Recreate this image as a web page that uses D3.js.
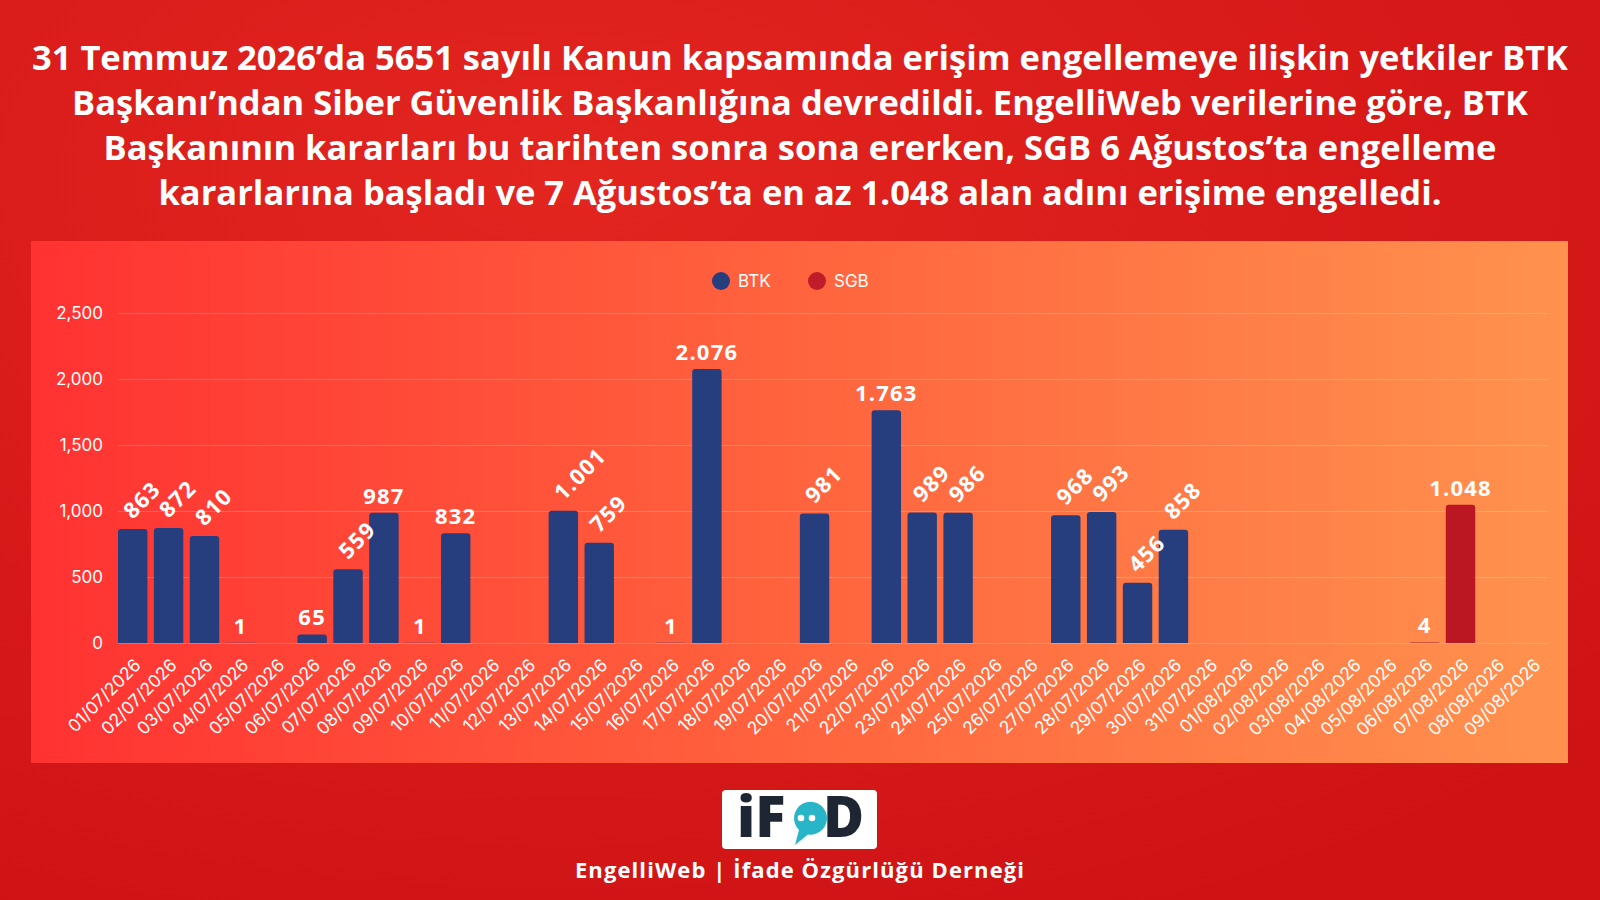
<!DOCTYPE html>
<html>
<head>
<meta charset="utf-8">
<script src="https://cdn.jsdelivr.net/npm/d3@7"></script>
<style>
  body { margin: 0; background: #d6181b; overflow: hidden; }
  svg { display: block; }
</style>
</head>
<body>
<svg id="chart"></svg>
<script>
const dates = [
  '01/07/2026', '02/07/2026', '03/07/2026', '04/07/2026', '05/07/2026', '06/07/2026', '07/07/2026',
  '08/07/2026', '09/07/2026', '10/07/2026', '11/07/2026', '12/07/2026', '13/07/2026', '14/07/2026',
  '15/07/2026', '16/07/2026', '17/07/2026', '18/07/2026', '19/07/2026', '20/07/2026', '21/07/2026',
  '22/07/2026', '23/07/2026', '24/07/2026', '25/07/2026', '26/07/2026', '27/07/2026', '28/07/2026',
  '29/07/2026', '30/07/2026', '31/07/2026', '01/08/2026', '02/08/2026', '03/08/2026', '04/08/2026',
  '05/08/2026', '06/08/2026', '07/08/2026', '08/08/2026', '09/08/2026'
]
const btkValues = [
  863, 872, 810, 1, null, 65, 559, 987, 1, 832, null, null, 1001, 759, null, 1, 2076, null, null, 981,
  null, 1763, 989, 986, null, null, 968, 993, 456, 858, null, null, null, null, null, null, null, null, null, null
]
const sgbValues = [
  null, null, null, null, null, null, null, null, null, null, null, null, null, null, null, null, null, null, null, null,
  null, null, null, null, null, null, null, null, null, null, null, null, null, null, null, null, 4, 1048, null, null
]
const yTicks = [0, 500, 1000, 1500, 2000, 2500]
const seriesNames = ['BTK', 'SGB']
// labels the original tool turned on their side
const rotatedLabels = [
  '01/07/2026', '02/07/2026', '03/07/2026', '07/07/2026', '13/07/2026', '14/07/2026', '20/07/2026',
  '23/07/2026', '24/07/2026', '27/07/2026', '28/07/2026', '29/07/2026', '30/07/2026'
]
const titleLines = [
  '31 Temmuz 2026’da 5651 sayılı Kanun kapsamında erişim engellemeye ilişkin yetkiler BTK',
  'Başkanı’ndan Siber Güvenlik Başkanlığına devredildi. EngelliWeb verilerine göre, BTK',
  'Başkanının kararları bu tarihten sonra sona ererken, SGB 6 Ağustos’ta engelleme',
  'kararlarına başladı ve 7 Ağustos’ta en az 1.048 alan adını erişime engelledi.'
]
const footerText = 'EngelliWeb | İfade Özgürlüğü Derneği'

const width = 1600, height = 900
const plot = { left: 118, right: 1547, top: 313, bottom: 643 }
const colors = { BTK: '#263e7e', SGB: '#bb1723' }

const trFormat = d3.formatLocale({ decimal: ',', thousands: '.', grouping: [3], currency: ['', ''] }).format(',')

const svg = d3.select('#chart').attr('width', width).attr('height', height)
const defs = svg.append('defs')

const bgGrad = defs.append('radialGradient').attr('id', 'bg').attr('cx', '35%').attr('cy', '20%').attr('r', '90%')
bgGrad.append('stop').attr('offset', '0%').attr('stop-color', '#e2251f')
bgGrad.append('stop').attr('offset', '100%').attr('stop-color', '#cf1214')

const panelGrad = defs.append('linearGradient').attr('id', 'panel').attr('x1', 0).attr('x2', 1).attr('y1', 0).attr('y2', 0)
panelGrad.append('stop').attr('offset', '0%').attr('stop-color', '#ff3232')
panelGrad.append('stop').attr('offset', '50%').attr('stop-color', '#ff643e')
panelGrad.append('stop').attr('offset', '100%').attr('stop-color', '#ff924e')

svg.append('rect').attr('width', width).attr('height', height).attr('fill', 'url(#bg)')

// title
svg.append('g')
  .selectAll('text')
  .data(titleLines)
  .enter()
  .append('text')
  .attr('x', width / 2)
  .attr('y', (d, i) => 69.5 + i * 45.3)
  .attr('text-anchor', 'middle')
  .attr('fill', '#fff')
  .style('font-family', '"Open Sans", sans-serif')
  .style('font-weight', 700)
  .style('font-size', '34.5px')
  .text(d => d)

svg.append('rect')
  .attr('x', 31).attr('y', 241)
  .attr('width', 1537).attr('height', 522)
  .attr('fill', 'url(#panel)')

const x = d3.scaleBand()
  .domain(dates)
  .range([plot.left, plot.right])
  .paddingInner(0.18)
  .paddingOuter(0)

const y = d3.scaleLinear()
  .domain([0, 2500])
  .range([plot.bottom, plot.top])

// Y-axis with grid
const yAxis = d3.axisLeft(y)
  .tickValues(yTicks)
  .tickSize(-(plot.right - plot.left))
  .tickPadding(15)
  .tickFormat(d3.format(','))

svg.append('g')
  .attr('transform', `translate(${plot.left}, 0)`)
  .call(yAxis)
  .call(g => g.select('.domain').remove())
  .call(g => g.selectAll('line').attr('stroke', 'rgba(255,255,255,0.22)'))
  .call(g => g.selectAll('text')
    .attr('fill', '#fff')
    .style('font-family', 'Inter, sans-serif')
    .style('font-size', '17px'))

// X-axis
const xAxis = d3.axisBottom(x).tickSize(0).tickPadding(0)
svg.append('g')
  .attr('transform', `translate(0, ${plot.bottom})`)
  .call(xAxis)
  .call(g => g.select('.domain').remove())
  .call(g => g.selectAll('text')
    .attr('fill', '#fff')
    .attr('text-anchor', 'end')
    .attr('dy', '0.35em')
    .attr('y', 0)
    .attr('transform', 'translate(5, 19) rotate(-45)')
    .style('font-family', 'Inter, sans-serif')
    .style('font-size', '17.5px'))

function topRounded(x0, y0, w, h, r) {
  r = Math.min(r, h, w / 2)
  return `M${x0},${y0 + h}V${y0 + r}Q${x0},${y0} ${x0 + r},${y0}H${x0 + w - r}Q${x0 + w},${y0} ${x0 + w},${y0 + r}V${y0 + h}Z`
}

const series = [
  { name: 'BTK', values: btkValues },
  { name: 'SGB', values: sgbValues }
]

series.forEach(s => {
  const pts = dates.map((d, i) => ({ date: d, value: s.values[i] })).filter(p => p.value !== null)
  const isRotated = d => s.name === 'BTK' && rotatedLabels.includes(d.date)

  svg.append('g')
    .selectAll('path')
    .data(pts)
    .enter()
    .append('path')
    .attr('d', d => topRounded(x(d.date), y(d.value), x.bandwidth(), y(0) - y(d.value), 3))
    .attr('fill', colors[s.name])

  svg.append('g')
    .selectAll('text')
    .data(pts)
    .enter()
    .append('text')
    .attr('transform', d => {
      const cx = x(d.date) + x.bandwidth() / 2
      return isRotated(d)
        ? `translate(${cx}, ${y(d.value) - 9}) rotate(-45)`
        : `translate(${cx}, ${y(d.value) - 9})`
    })
    .attr('text-anchor', d => isRotated(d) ? 'start' : 'middle')
    .attr('fill', '#fff')
    .style('font-family', '"Open Sans", sans-serif')
    .style('font-weight', 700)
    .style('font-size', '22px')
    .style('letter-spacing', '1.2px')
    .text(d => trFormat(d.value))
})

// legend
const legend = svg.append('g')
  .selectAll('g')
  .data(seriesNames)
  .enter()
  .append('g')
  .attr('transform', (d, i) => `translate(${721 + i * 96}, 281)`)

legend.append('circle').attr('r', 9).attr('fill', d => d === 'SGB' ? '#c01c2a' : colors[d])
legend.append('text')
  .attr('x', 17)
  .attr('dy', '0.36em')
  .attr('fill', '#fff')
  .style('font-family', 'Inter, sans-serif')
  .style('font-size', '17px')
  .text(d => d)

// logo
const logo = svg.append('g')
logo.append('rect')
  .attr('x', 722).attr('y', 790).attr('width', 155).attr('height', 59).attr('rx', 4)
  .attr('fill', '#fff')
logo.append('text')
  .attr('x', 737).attr('y', 837)
  .attr('fill', '#1e2633')
  .style('font-family', '"Open Sans", sans-serif')
  .style('font-weight', 800)
  .style('font-size', '56px')
  .text('iF')
logo.append('path')
  .attr('d', 'M795,845 L799,830 A16.5,16.5 0 1 1 808,834.5 Z')
  .attr('fill', '#29b5c8')
logo.append('circle').attr('cx', 801).attr('cy', 818).attr('r', 3.3).attr('fill', '#fff')
logo.append('circle').attr('cx', 812).attr('cy', 818).attr('r', 3.3).attr('fill', '#fff')
logo.append('text')
  .attr('x', 823).attr('y', 837)
  .attr('fill', '#1e2633')
  .style('font-family', '"Open Sans", sans-serif')
  .style('font-weight', 800)
  .style('font-size', '56px')
  .text('D')

svg.append('text')
  .attr('x', width / 2)
  .attr('y', 878)
  .attr('text-anchor', 'middle')
  .attr('fill', '#fff')
  .style('font-family', '"Open Sans", sans-serif')
  .style('font-weight', 700)
  .style('font-size', '22px')
  .style('letter-spacing', '1.1px')
  .text(footerText)
</script>
</body>
</html>
